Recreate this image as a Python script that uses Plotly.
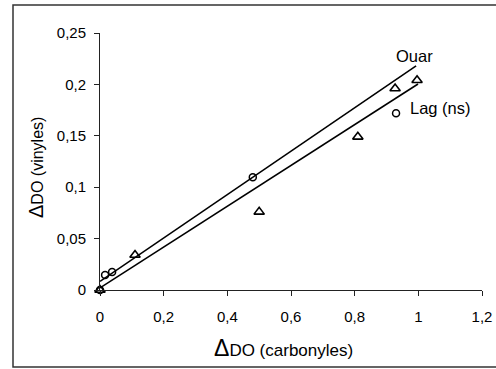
import plotly.graph_objects as go

# Data
tri_x = [0.0, 0.11, 0.50, 0.81, 0.927, 0.996]
tri_y = [0.0, 0.034, 0.076, 0.149, 0.196, 0.204]
circ_x = [0.0, 0.016, 0.038, 0.48, 0.93]
circ_y = [0.0, 0.0146, 0.0175, 0.1096, 0.172]

ouar_x = [0.0, 0.993]
ouar_y = [0.0084, 0.218]
lag_x = [0.0, 0.999]
lag_y = [0.002, 0.2004]

xticks = [0, 0.2, 0.4, 0.6, 0.8, 1.0, 1.2]
xticktext = ["0", "0,2", "0,4", "0,6", "0,8", "1", "1,2"]
yticks = [0, 0.05, 0.1, 0.15, 0.2, 0.25]
yticktext = ["0", "0,05", "0,1", "0,15", "0,2", "0,25"]

W, H = 496, 369
L, R, T, B = 100, 14, 33, 79
pw, ph = W - L - R, H - T - B

def px(xp):
    return (xp - L) / pw

def py(yp):
    return (H - B - yp) / ph

fig = go.Figure()
fig.add_trace(go.Scatter(x=ouar_x, y=ouar_y, mode="lines",
                         line=dict(color="black", width=1.6), showlegend=False))
fig.add_trace(go.Scatter(x=lag_x, y=lag_y, mode="lines",
                         line=dict(color="black", width=1.6), showlegend=False))
fig.add_trace(go.Scatter(x=tri_x, y=tri_y, mode="markers",
                         marker=dict(symbol="triangle-up-open", size=9,
                                     color="black", line=dict(width=1.6)),
                         showlegend=False, cliponaxis=False))
fig.add_trace(go.Scatter(x=circ_x, y=circ_y, mode="markers",
                         marker=dict(symbol="circle-open", size=7,
                                     color="black", line=dict(width=1.5)),
                         showlegend=False, cliponaxis=False))

fam = "Liberation Sans, Arial, sans-serif"
font = dict(family=fam, size=15, color="black")
lab_font = dict(family=fam, size=16.5, color="black")
xt_font = dict(family=fam, size=17, color="black")
yt_font = dict(family=fam, size=16, color="black")

fig.update_layout(
    template="none",
    width=W, height=H,
    margin=dict(l=L, r=R, t=T, b=B, autoexpand=False),
    paper_bgcolor="white", plot_bgcolor="white",
    font=font,
    xaxis=dict(range=[0, 1.2], tickvals=xticks, ticktext=xticktext,
               showgrid=False, zeroline=False, showline=True, automargin=False,
               linecolor="#222", linewidth=1, ticks="outside", ticklen=5,
               tickcolor="#222", tickfont=font, ticklabelstandoff=8),
    yaxis=dict(range=[0, 0.25], tickvals=yticks, ticktext=yticktext,
               showgrid=False, zeroline=False, showline=True, automargin=False,
               linecolor="#222", linewidth=1, ticks="outside", ticklen=5,
               tickcolor="#222", tickfont=font, ticklabelstandoff=5),
    annotations=[
        dict(x=px(414), y=py(56), xref="paper", yref="paper", text="Ouar",
             xanchor="center", yanchor="middle", showarrow=False, font=lab_font),
        dict(x=px(440), y=py(108), xref="paper", yref="paper", text="Lag (ns)",
             xanchor="center", yanchor="middle", showarrow=False, font=lab_font),
        dict(x=px(283), y=py(348), xref="paper", yref="paper",
             text="<span style='font-size:23px'>Δ</span>DO (carbonyles)",
             xanchor="center", yanchor="middle", showarrow=False, font=xt_font),
        dict(x=px(36), y=py(168), xref="paper", yref="paper",
             text="<span style='font-size:20px'>Δ</span>DO (vinyles)",
             xanchor="center", yanchor="middle",
             textangle=-90, showarrow=False, font=yt_font),
    ],
    shapes=[
        dict(type="rect", xref="paper", yref="paper",
             x0=px(13), x1=px(505), y0=py(367), y1=py(5),
             line=dict(color="#333", width=1.5), fillcolor="rgba(0,0,0,0)"),
    ],
)

fig.write_html("out.html")
